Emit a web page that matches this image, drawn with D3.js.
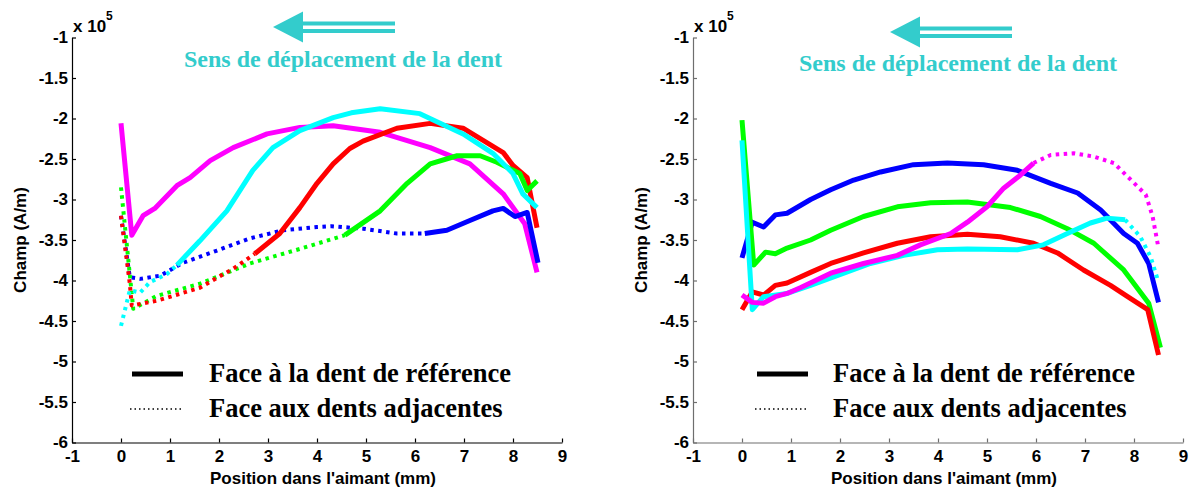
<!DOCTYPE html>
<html><head><meta charset="utf-8">
<script src="https://cdn.jsdelivr.net/npm/d3@7"></script>
<style>body{margin:0;background:#fff}svg{display:block}</style>
</head><body>
<svg id="c" width="1203" height="488"></svg>
<script>
// ---- data (field in units of 1e5 A/m, position in mm) ----
const xTicks = [-1,0,1,2,3,4,5,6,7,8,9];
const yTicks = [-1,-1.5,-2,-2.5,-3,-3.5,-4,-4.5,-5,-5.5,-6];
const legendLabels = ["Face à la dent de référence","Face aux dents adjacentes"];
const arrowLabel = "Sens de déplacement de la dent";

// Left panel
const L_magentaSolid = [[0,-2.06],[0.22,-3.44],[0.45,-3.2],[0.69,-3.11],[1.14,-2.83],[1.41,-2.73],[1.82,-2.52],[2.29,-2.36],[2.98,-2.19],[3.65,-2.11],[4.33,-2.09],[5.29,-2.17],[6.31,-2.36],[7.12,-2.56],[7.8,-2.93],[8.24,-3.3],[8.49,-3.9]];
const L_cyanSolid = [[1.14,-3.81],[1.61,-3.51],[2.16,-3.14],[2.69,-2.64],[3.1,-2.36],[3.65,-2.15],[4.33,-1.99],[4.7,-1.93],[5.29,-1.88],[6.1,-1.94],[6.98,-2.19],[7.59,-2.43],[8.0,-2.68],[8.2,-2.93],[8.49,-3.1]];
const L_redSolid = [[2.73,-3.67],[3.24,-3.42],[3.65,-3.1],[4.0,-2.8],[4.33,-2.56],[4.67,-2.37],[4.94,-2.28],[5.63,-2.12],[6.31,-2.06],[6.98,-2.12],[7.39,-2.27],[7.8,-2.42],[8.0,-2.58],[8.29,-2.73],[8.49,-3.35]];
const L_greenSolid = [[4.57,-3.44],[5.29,-3.14],[5.84,-2.8],[6.31,-2.56],[6.86,-2.46],[7.33,-2.46],[7.67,-2.54],[8.14,-2.68],[8.29,-2.89],[8.49,-2.77]];
const L_blueSolid = [[6.2,-3.42],[6.65,-3.38],[7.12,-3.26],[7.59,-3.14],[7.8,-3.11],[8.04,-3.21],[8.29,-3.16],[8.51,-3.78]];
const L_blueDot = [[0,-3.2],[0.18,-3.96],[0.39,-3.98],[0.8,-3.94],[1.27,-3.78],[1.96,-3.63],[2.63,-3.48],[3.31,-3.38],[4.0,-3.34],[4.3,-3.33],[4.94,-3.36],[5.63,-3.42],[6.2,-3.42]];
const L_greenDot = [[0,-2.85],[0.25,-4.35],[0.73,-4.19],[1.61,-4.04],[2.63,-3.79],[3.65,-3.61],[4.57,-3.44]];
const L_redDot = [[0,-3.2],[0.18,-4.04],[0.22,-4.31],[0.73,-4.25],[1.61,-4.09],[2.3,-3.85],[2.73,-3.67]];
const L_cyanDot = [[0,-4.56],[0.18,-4.12],[0.39,-4.15],[0.59,-4.02],[0.94,-3.92],[1.14,-3.81]];

// Right panel
const R_blueSolid = [[0,-3.72],[0.21,-3.28],[0.44,-3.34],[0.68,-3.19],[0.92,-3.17],[1.4,-3.0],[1.81,-2.88],[2.28,-2.76],[2.83,-2.66],[3.5,-2.57],[4.19,-2.55],[4.93,-2.57],[5.62,-2.64],[6.3,-2.8],[6.85,-2.92],[7.32,-3.13],[7.79,-3.42],[8.07,-3.54],[8.3,-3.79],[8.5,-4.27]];
const R_greenSolid = [[0,-2.02],[0.24,-3.81],[0.48,-3.65],[0.68,-3.67],[0.92,-3.6],[1.4,-3.5],[1.81,-3.38],[2.48,-3.21],[3.17,-3.09],[3.85,-3.04],[4.6,-3.03],[5.48,-3.1],[6.09,-3.21],[6.64,-3.36],[7.18,-3.54],[7.79,-3.87],[8.3,-4.28],[8.54,-4.83]];
const R_redSolid = [[0,-4.36],[0.21,-4.14],[0.44,-4.18],[0.68,-4.06],[0.92,-4.03],[1.4,-3.9],[1.81,-3.79],[2.48,-3.66],[3.17,-3.54],[3.85,-3.46],[4.6,-3.43],[5.27,-3.46],[5.95,-3.54],[6.44,-3.66],[6.97,-3.87],[7.52,-4.06],[7.87,-4.2],[8.28,-4.36],[8.5,-4.92]];
const R_cyanSolid = [[0,-2.27],[0.21,-4.36],[0.44,-4.2],[0.92,-4.16],[1.4,-4.06],[1.94,-3.94],[2.62,-3.79],[3.3,-3.69],[3.99,-3.62],[4.6,-3.61],[5.62,-3.62],[6.15,-3.56],[6.64,-3.42],[7.11,-3.29],[7.45,-3.23],[7.82,-3.25]];
const R_cyanDot = [[7.82,-3.25],[8.13,-3.46],[8.34,-3.71],[8.5,-4.02]];
const R_magentaSolid = [[0,-4.18],[0.21,-4.27],[0.44,-4.28],[0.68,-4.2],[0.92,-4.16],[1.19,-4.09],[1.81,-3.91],[2.48,-3.79],[3.17,-3.69],[3.64,-3.56],[4.26,-3.42],[4.6,-3.28],[5.0,-3.09],[5.34,-2.86],[5.68,-2.7],[5.95,-2.55]];
const R_magentaDot = [[5.95,-2.55],[6.3,-2.45],[6.77,-2.43],[7.18,-2.47],[7.59,-2.55],[7.94,-2.76],[8.24,-2.94],[8.38,-3.21],[8.5,-3.6]];

const COL = {red:"#ff0000",green:"#00ff00",blue:"#0000ff",cyan:"#00ffff",magenta:"#ff00ff"};

const panels = [
  {x0:72, x1:562, axisColor:"#000", legendX:132, textX:209, sensY:67, arrowY:27, tipOff:-44, capOff:26,
   series:[
    {d:L_blueDot,c:"blue",dot:true},{d:L_greenDot,c:"green",dot:true},{d:L_redDot,c:"red",dot:true},{d:L_cyanDot,c:"cyan",dot:true},
    {d:L_magentaSolid,c:"magenta"},{d:L_redSolid,c:"red"},{d:L_greenSolid,c:"green"},{d:L_cyanSolid,c:"cyan"},{d:L_blueSolid,c:"blue"}]},
  {x0:693, x1:1183, axisColor:"#6e6e6e", legendX:757, textX:833, sensY:71, arrowY:32, tipOff:-48, capOff:20,
   series:[
    {d:R_blueSolid,c:"blue"},{d:R_greenSolid,c:"green"},{d:R_redSolid,c:"red"},{d:R_cyanSolid,c:"cyan"},{d:R_cyanDot,c:"cyan",dot:true},
    {d:R_magentaSolid,c:"magenta"},{d:R_magentaDot,c:"magenta",dot:true}]}
];

const svg = d3.select("#c");
const yTop = 37.5, yBot = 442.5;
const sansB = "'Liberation Sans', Arial, sans-serif";
const serifB = "'Liberation Serif', 'Times New Roman', serif";

panels.forEach(p => {
  const x = d3.scaleLinear().domain([-1,9]).range([p.x0,p.x1]);
  const y = d3.scaleLinear().domain([-6,-1]).range([yBot,yTop]);
  const g = svg.append("g");

  // axes
  const ya = g.append("g").attr("transform",`translate(${p.x0},0)`)
    .call(d3.axisLeft(y).tickValues(yTicks).tickFormat(d=>String(d)).tickSizeInner(-4).tickSizeOuter(0).tickPadding(4));
  const xa = g.append("g").attr("transform",`translate(0,${yBot})`)
    .call(d3.axisBottom(x).tickValues(xTicks).tickFormat(d=>String(d)).tickSizeInner(-4).tickSizeOuter(0).tickPadding(7));
  [ya,xa].forEach(a=>{
    a.selectAll("path,line").attr("stroke",p.axisColor).attr("stroke-width",1.2);
    a.selectAll("text").attr("fill","#000").style("font-family",sansB).style("font-weight","bold").style("font-size","17px");
  });

  // exponent label
  const ex = g.append("text").attr("x",p.x0+1).attr("y",32).style("font-family",sansB).style("font-weight","bold").style("font-size","17px");
  ex.append("tspan").text("x 10");
  ex.append("tspan").attr("dy",-12).style("font-size","12px").text("5");

  // axis titles
  g.append("text").attr("transform",`translate(${p.x0-46},${(yTop+yBot)/2}) rotate(-90)`).attr("text-anchor","middle")
    .style("font-family",sansB).style("font-weight","bold").style("font-size","17px").text("Champ (A/m)");
  g.append("text").attr("x",(p.x0+p.x1)/2+6).attr("y",484).attr("text-anchor","middle")
    .style("font-family",sansB).style("font-weight","bold").style("font-size","17px").text("Position dans l'aimant (mm)");

  // data lines
  const line = d3.line().x(d=>x(d[0])).y(d=>y(d[1]));
  p.series.forEach(s=>{
    g.append("path").attr("d",line(s.d)).attr("fill","none").attr("stroke",COL[s.c])
      .attr("stroke-width", s.dot?4:5).attr("stroke-linejoin","round")
      .attr("stroke-dasharray", s.dot?"3.5,4.5":null);
  });

  // legend
  g.append("line").attr("x1",p.legendX).attr("x2",p.legendX+51).attr("y1",374).attr("y2",374).attr("stroke","#000").attr("stroke-width",5);
  g.append("line").attr("x1",p.legendX-2).attr("x2",p.legendX+49).attr("y1",409).attr("y2",409).attr("stroke","#000").attr("stroke-width",1.5).attr("stroke-dasharray","1.5,3");
  g.append("text").attr("x",p.textX).attr("y",382).style("font-family",serifB).style("font-weight","bold").style("font-size","26.5px").text(legendLabels[0]);
  g.append("text").attr("x",p.textX).attr("y",417).style("font-family",serifB).style("font-weight","bold").style("font-size","26.5px").text(legendLabels[1]);

  // direction arrow + caption
  const ac = "#33cccc";
  const cx = (p.x0+p.x1)/2;
  const tip = cx + p.tipOff, back = tip + 30, end = tip + 122, ay = p.arrowY;
  g.append("path").attr("d",`M${tip},${ay} L${back},${ay-15.5} L${back},${ay+15.5} Z`).attr("fill",ac);
  g.append("rect").attr("x",back-1).attr("y",ay-5.5).attr("width",end-back+1).attr("height",4).attr("fill",ac);
  g.append("rect").attr("x",back-1).attr("y",ay+2).attr("width",end-back+1).attr("height",4).attr("fill",ac);
  g.append("text").attr("x",cx+p.capOff).attr("y",p.sensY).attr("text-anchor","middle").attr("fill",ac)
    .style("font-family",serifB).style("font-weight","bold").style("font-size","24px").text(arrowLabel);
});
</script>
</body></html>
